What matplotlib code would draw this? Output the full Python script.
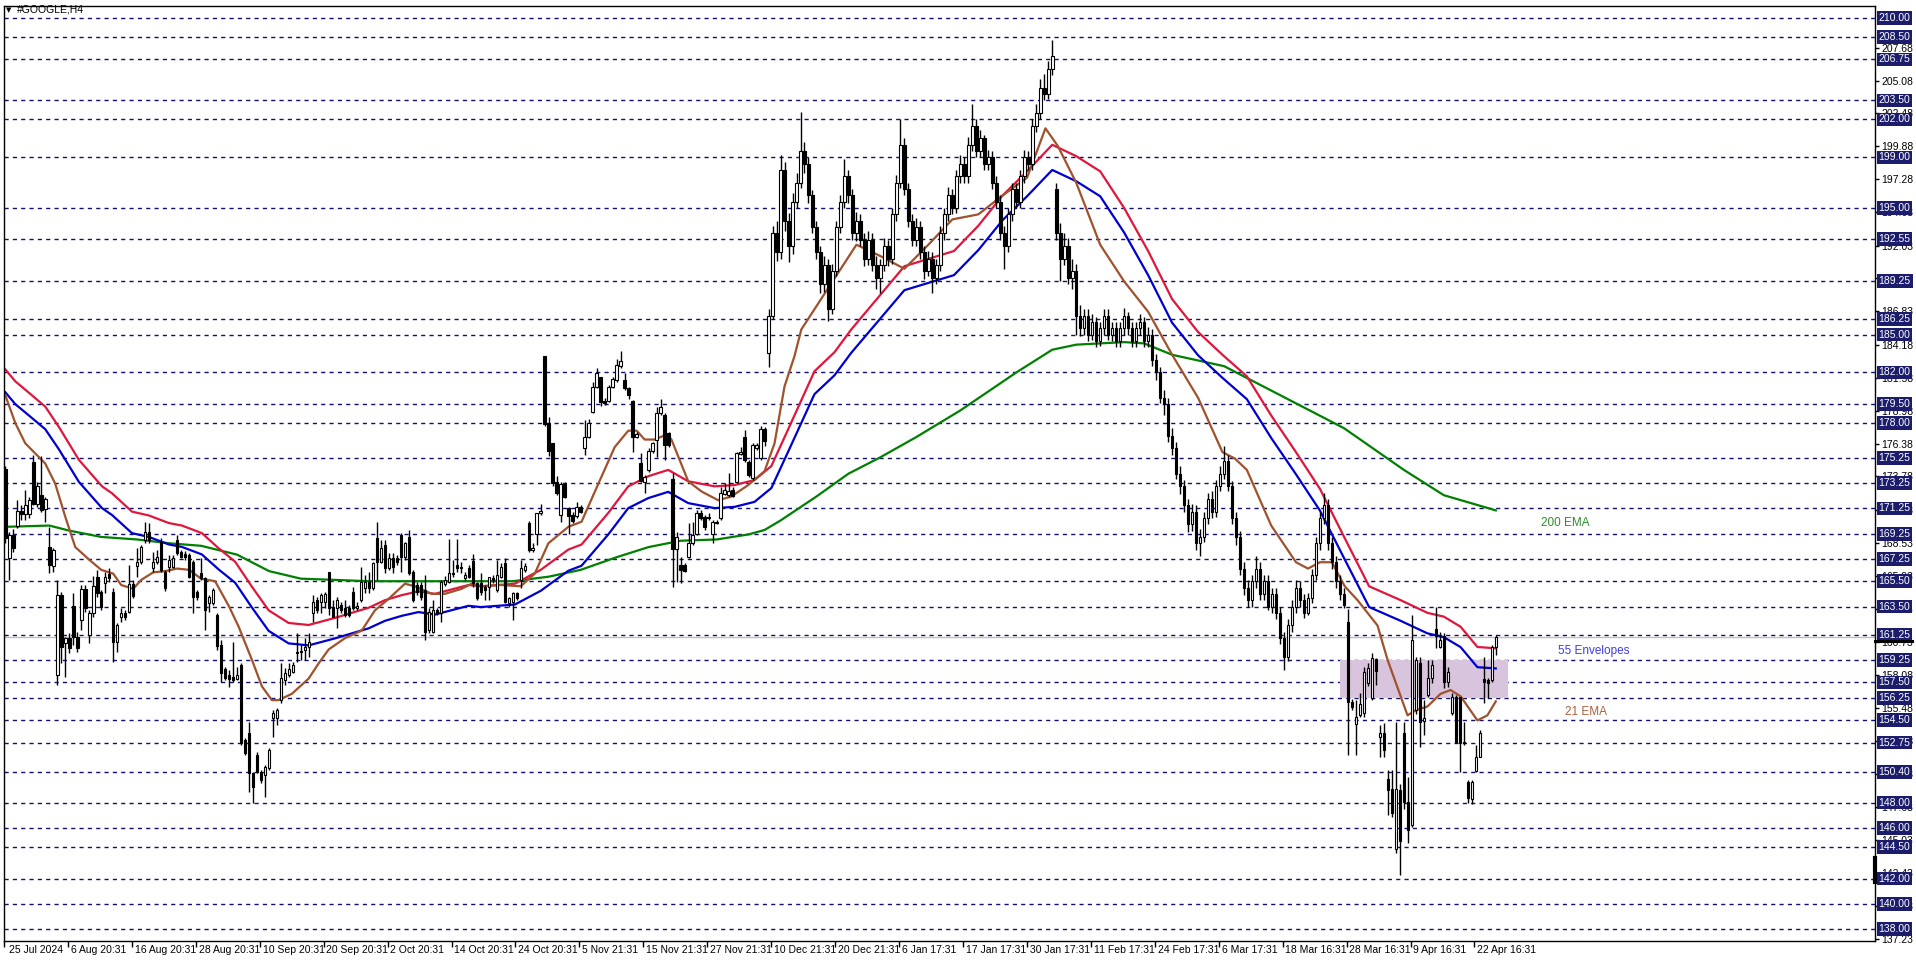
import matplotlib
matplotlib.use('Agg')
import matplotlib.pyplot as plt
import matplotlib.transforms as mtransforms
from matplotlib.patches import Rectangle

plt.rcParams['font.family'] = ['Liberation Sans', 'DejaVu Sans']

# ---------------- data ----------------
opens = [174.34,167.31,169.15,169.86,171.07,170.81,170.81,174.95,171.57,172.31,
171.18,168.23,166.70,158.08,164.41,160.64,160.98,163.54,161.11,162.43,
164.86,161.24,162.96,165.86,164.67,165.38,166.04,164.67,160.72,162.70,
162.96,163.09,165.28,166.70,167.04,168.76,169.41,166.52,167.04,168.62,
166.25,166.65,166.65,168.76,167.83,167.62,167.57,167.04,164.67,166.12,
165.73,163.75,163.75,162.83,160.46,158.53,158.08,157.95,157.74,158.87,
152.94,153.47,150.31,151.76,150.44,150.18,150.71,154.66,154.66,156.11,
157.69,158.08,158.35,159.93,160.00,160.06,160.32,162.96,164.01,163.88,
163.88,166.25,163.49,163.35,163.62,163.35,163.35,164.67,163.35,164.01,
164.93,165.46,164.93,168.89,167.04,168.36,166.52,167.30,167.30,169.15,
167.44,169.02,166.25,165.20,165.20,164.80,161.64,161.51,163.22,162.96,
165.28,165.46,166.17,166.78,166.65,165.73,166.52,167.12,165.33,165.33,
165.07,165.07,165.73,164.81,165.86,166.91,163.75,163.88,164.54,165.60,
166.39,170.13,167.97,169.23,170.92,183.30,177.98,176.40,173.37,170.74,
173.16,171.26,170.74,170.66,171.39,176.00,176.88,178.90,180.83,181.62,
179.77,179.77,180.88,181.41,182.51,181.41,180.75,179.77,176.88,174.82,
173.37,174.29,175.82,176.67,178.77,178.64,177.19,173.56,168.02,166.78,
166.78,167.44,168.50,169.23,170.92,170.60,170.60,169.23,170.20,170.47,
172.40,172.32,172.71,173.37,175.56,176.88,174.95,173.63,176.00,175.22,
177.51,183.57,
186.5,193.0,191.5,198.0,194.0,192.0,195.5,197.0,199.5,198.5,
196.0,193.5,191.5,189.0,190.5,187.0,190.0,193.5,195.5,197.5,
196.0,193.0,194.0,192.5,191.0,192.5,190.5,189.5,190.5,192.0,
191.0,194.5,197.0,200.0,196.5,194.0,192.5,193.5,191.5,190.0,
191.0,189.5,190.5,193.0,194.5,196.0,195.0,197.5,198.5,197.5,
200.0,201.5,199.5,200.5,198.5,199.0,197.0,195.5,193.0,192.0,
194.5,196.5,195.5,197.5,199.0,198.5,201.5,202.5,204.5,204.0,
206.0,196.5,193.0,191.0,192.0,189.5,190.0,186.5,185.5,186.5,
185.0,186.0,184.5,185.5,186.5,185.0,185.5,184.5,185.5,186.5,
185.5,184.5,185.5,186.0,184.5,185.0,183.0,182.0,180.0,179.5,
177.0,176.0,174.0,173.0,171.5,170.0,171.0,168.5,169.0,170.5,
172.0,171.0,173.0,174.0,175.0,173.0,170.5,169.0,166.5,165.0,
164.0,165.5,166.5,164.5,165.5,163.5,164.5,163.0,161.0,159.5,
162.0,163.5,165.0,164.0,163.0,164.2,166.0,168.5,170.5,171.5,
168.5,167.0,165.5,164.5,162.3,155.98,154.22,154.93,155.06,157.43,
156.25,159.33,153.16,153.48,149.87,149.08,144.31,149.0,153.48,148.08,
146.23,155.32,159.0,154.48,156.51,157.83,161.7,160.33,161.2,157.56,
155.06,156.38,156.38,152.74,149.66,148.26,150.53,151.64,157.75,157.7,
157.7,160.33]
highs = [174.60,169.40,169.60,171.92,171.52,172.71,172.18,175.47,173.37,175.40,
172.18,169.81,168.10,165.59,164.67,161.10,161.40,164.54,161.50,165.20,
165.20,163.22,165.91,166.38,164.80,166.25,166.52,164.93,162.17,163.35,
163.20,166.78,165.59,168.10,168.36,170.20,170.07,167.83,167.96,168.89,
166.38,167.57,167.57,169.15,168.00,167.90,167.70,167.17,164.80,167.30,
165.86,164.41,164.93,162.96,160.85,158.74,158.48,160.72,158.74,159.00,
153.07,154.40,150.44,152.02,150.57,150.97,152.29,155.32,155.45,159.00,
158.61,159.00,159.14,161.38,160.46,160.98,161.38,164.41,164.28,164.54,
164.67,166.25,164.01,164.28,163.88,164.01,163.62,165.07,163.88,166.65,
165.99,166.25,167.04,170.20,168.76,168.76,167.70,167.70,167.60,169.28,
168.62,169.54,166.38,165.46,165.46,165.99,163.35,164.01,163.35,165.59,
165.90,168.81,167.17,168.81,167.04,166.25,166.78,167.65,165.46,166.12,
165.20,165.86,166.00,167.18,166.91,167.31,164.28,164.67,164.67,167.18,
166.91,170.29,168.50,170.92,171.60,183.30,178.46,176.45,173.82,173.37,
173.37,171.39,171.00,171.79,171.53,178.25,178.30,181.28,182.33,181.67,
179.96,181.01,181.67,183.04,183.73,181.93,180.88,179.83,177.32,175.61,
173.90,176.00,176.53,179.25,179.88,178.77,177.32,174.03,169.42,167.44,
166.91,170.13,170.21,171.13,171.13,170.74,170.87,170.34,170.30,172.98,
173.29,174.03,172.98,175.74,176.14,177.46,175.09,176.40,176.40,177.77,
177.72,187.00,
193.6,194.0,199.2,198.6,194.6,196.2,197.8,202.6,200.2,199.0,
196.4,194.0,192.0,191.2,191.0,190.6,194.0,196.0,198.9,198.0,
196.5,194.7,194.5,193.0,193.2,193.0,191.2,191.0,192.6,192.5,
195.0,197.6,202.0,200.5,197.0,194.5,194.2,194.0,192.0,191.6,
191.5,191.0,193.6,195.0,196.7,196.5,198.0,199.2,199.0,200.6,
203.2,202.0,201.2,200.8,199.6,199.5,197.5,196.0,193.6,195.0,
197.0,197.0,198.0,199.6,199.5,202.0,203.2,205.2,205.6,206.6,
208.3,197.0,193.8,193.0,192.6,191.0,190.6,187.3,187.0,187.0,
186.6,186.4,186.0,187.0,187.0,186.0,186.0,186.0,187.1,186.8,
186.0,186.0,186.6,186.4,185.6,185.4,183.5,182.4,180.6,180.0,
177.6,176.5,174.6,173.5,172.0,171.6,171.5,169.6,171.0,172.5,
172.6,173.5,174.6,176.2,175.5,173.4,171.0,169.5,167.0,165.6,
166.0,167.5,167.0,166.0,166.0,165.0,165.0,163.5,161.5,162.5,
164.0,165.6,165.5,164.5,164.6,166.5,169.0,171.0,172.5,172.0,
169.0,167.5,166.0,165.0,163.28,156.2,156.12,156.64,158.75,159.0,
159.85,159.41,154.14,154.27,150.58,150.58,154.4,149.5,154.4,150.05,
162.8,159.54,159.54,156.12,159.28,159.28,163.5,161.5,161.4,158.75,
156.64,156.51,156.38,154.4,149.8,149.8,152.56,153.74,159.54,157.83,
160.46,161.25]
lows = [168.50,165.59,167.80,169.68,170.34,170.34,170.47,171.52,171.39,170.99,
170.20,166.12,166.25,157.29,159.00,157.90,159.80,160.45,159.93,161.64,
163.09,160.64,162.70,164.28,163.22,164.54,165.46,159.14,159.93,162.30,
162.40,162.96,164.15,165.86,166.90,168.50,168.50,166.25,166.90,166.25,
164.75,166.25,166.52,167.57,167.30,167.20,165.73,163.01,164.00,165.59,
161.64,163.09,163.62,160.06,157.56,157.69,157.16,157.56,157.69,152.55,
151.76,148.86,147.94,150.31,149.52,148.46,150.57,153.21,154.13,155.84,
157.29,157.95,158.22,159.14,159.27,159.27,159.53,162.30,162.96,162.96,
163.35,162.83,162.70,161.77,162.96,162.70,162.70,163.22,163.22,163.88,
164.54,164.54,164.80,165.59,166.91,166.12,166.38,166.12,166.80,166.25,
167.17,165.99,163.88,164.41,164.01,160.85,161.38,161.38,162.83,162.30,
165.10,165.33,165.86,166.25,166.12,165.59,165.73,165.07,164.01,164.40,
164.02,164.02,165.33,164.67,165.73,163.75,163.49,162.43,164.02,164.94,
166.26,167.84,167.84,168.37,170.74,177.80,175.40,173.03,172.32,170.21,
172.05,169.23,170.08,170.47,170.87,175.48,176.80,178.83,180.75,179.35,
179.43,179.69,180.75,181.28,182.33,180.62,179.88,175.74,176.80,173.37,
172.45,174.16,175.61,175.35,178.64,175.09,176.14,165.07,165.47,165.39,
166.26,167.31,168.37,169.15,170.34,169.55,170.34,168.55,170.00,170.34,
172.32,172.19,172.19,173.24,175.48,174.95,173.77,173.50,175.87,175.09,
176.19,182.41,
186.2,190.8,191.0,193.2,190.7,191.4,195.0,196.6,197.8,195.4,
193.0,191.0,188.3,188.4,186.1,186.6,189.6,193.0,195.0,195.4,
192.5,192.4,192.0,190.4,190.5,190.0,188.6,188.3,190.0,190.4,
190.6,194.0,196.6,196.0,193.5,192.0,192.0,191.0,189.4,189.6,
188.3,189.0,190.0,192.5,194.0,194.5,194.6,197.0,197.0,197.0,
199.5,199.0,199.0,198.0,198.0,196.5,195.0,192.5,190.2,191.5,
194.0,195.0,195.0,197.0,198.0,198.0,201.0,202.0,203.5,203.6,
205.5,192.5,189.2,190.5,189.0,188.6,185.0,184.9,185.0,184.5,
184.6,184.0,184.1,185.0,184.6,184.5,184.0,184.0,185.0,185.0,
184.0,184.0,185.0,184.0,184.0,182.5,181.4,179.6,178.6,176.5,
175.5,173.6,172.4,171.0,169.4,169.5,168.0,167.5,168.6,170.0,
170.5,170.6,172.6,173.6,172.6,170.0,168.4,166.0,164.4,163.5,
163.5,165.0,164.0,164.0,163.2,163.0,162.5,160.5,158.5,159.2,
161.5,163.0,163.5,162.6,162.8,163.8,165.6,168.0,170.0,168.0,
166.5,165.0,164.0,163.4,151.77,155.3,151.77,154.8,154.8,157.2,
156.12,157.3,151.64,151.64,147.02,146.9,144.0,142.3,147.5,144.78,
146.1,155.0,152.43,153.35,156.38,157.43,160.2,160.2,157.04,157.17,
154.93,152.69,150.45,152.56,147.95,147.89,150.45,151.64,155.85,156.25,
157.56,159.67]
closes = [168.89,169.15,168.10,171.07,170.81,171.52,171.92,171.57,173.02,171.13,
171.97,166.78,168.00,164.41,160.32,160.98,160.19,161.11,160.19,164.86,
163.35,162.96,165.12,164.54,163.49,165.86,165.73,160.72,162.04,162.96,
162.70,165.28,164.33,167.04,168.23,169.41,168.76,167.04,167.44,166.38,
164.93,167.17,167.30,167.70,167.44,167.44,165.86,164.28,164.28,165.73,
163.22,164.28,164.80,160.38,158.22,157.82,157.74,157.69,158.08,152.68,
151.89,150.31,149.26,150.44,149.78,150.84,152.15,155.05,155.32,157.82,
158.22,158.53,158.87,159.80,159.88,160.32,160.72,163.88,163.22,164.41,
164.49,163.35,162.70,164.01,163.22,162.83,162.83,163.35,163.54,165.46,
165.46,164.93,166.91,167.04,168.10,166.52,167.30,166.65,167.04,167.44,
168.49,166.12,164.01,164.67,164.28,161.51,163.09,163.22,162.96,165.46,
165.59,166.12,166.07,166.52,166.52,165.99,165.86,165.33,164.15,164.67,
164.81,165.86,165.60,166.00,166.65,163.88,164.15,164.54,164.15,166.52,
166.70,167.97,168.10,170.87,171.05,177.93,175.82,173.24,172.45,173.16,
172.19,170.66,170.29,171.39,171.00,176.88,177.98,180.83,181.93,179.69,
179.56,180.83,181.46,182.59,182.94,180.75,180.22,176.88,177.14,173.45,
173.77,175.82,176.40,178.77,179.30,176.27,176.27,168.02,169.02,166.39,
166.34,168.50,169.15,170.92,170.47,169.76,170.47,170.21,170.10,172.45,
172.71,172.66,172.27,175.61,175.74,175.09,173.90,176.27,176.27,177.51,
176.61,186.50,
193.0,191.5,198.0,194.0,192.0,195.5,197.0,199.5,198.5,196.0,
193.5,191.5,189.0,190.5,187.0,190.0,193.5,195.5,197.5,196.0,
193.0,194.0,192.5,191.0,192.5,190.5,189.5,190.5,192.0,191.0,
194.5,197.0,200.0,196.5,194.0,192.5,193.5,191.5,190.0,191.0,
189.5,190.5,193.0,194.5,196.0,195.0,197.5,198.5,197.5,200.0,
201.5,199.5,200.5,198.5,199.0,197.0,195.5,193.0,192.0,194.5,
196.5,195.5,197.5,199.0,198.5,201.5,202.5,204.5,204.0,206.0,
207.0,193.0,191.0,192.0,189.5,190.0,186.5,185.5,186.5,185.0,
186.0,184.5,185.5,186.5,185.0,185.5,184.5,185.5,186.5,185.5,
184.5,185.5,186.0,184.5,185.0,183.0,182.0,180.0,179.5,177.0,
176.0,174.0,173.0,171.5,170.0,171.0,168.5,169.0,170.5,172.0,
171.0,173.0,174.0,175.0,173.0,170.5,169.0,166.5,165.0,164.0,
165.5,166.5,164.5,165.5,163.5,164.5,163.0,161.0,159.5,162.0,
163.5,165.0,164.0,163.0,164.2,166.0,168.5,170.5,171.5,168.5,
167.0,165.5,164.5,163.6,155.98,155.59,154.8,155.8,158.35,158.62,
159.41,158.43,153.48,152.16,149.0,147.16,149.08,145.0,148.08,145.84,
160.86,159.28,154.4,154.67,157.83,158.88,161.2,160.86,157.56,158.35,
156.38,152.82,152.74,152.69,148.34,149.66,151.64,153.53,157.56,157.43,
160.33,161.07]

# indicator lines (bar position, price)
env_x = [0,2.5,5.9,10,13.4,18.4,24.2,26.7,31.7,35.9,40.9,44.2,49.2,53.4,57.5,
61.7,65.9,70.9,75.9,82.5,90.9,95,99.2,103.4,107.5,115.9,119,127.5,134,140.9,
144.2,150.9,155.9,160.9,165.9,170.9,177.5,182.5,187.5,191.7,195.9,202.5,207.5,211.7,225,
237.4,243.5,249.6,255.7,262,268,274,280,286,292,298.5,304.6,310.7,316.8,323,
329,335.2,341.3,349.2,355.9,360,364.2,368.4,373]
env_upper = [182.25,181.3,180.4,179.3,177.7,175.1,173.0,172.45,171.0,170.7,170.1,169.9,169.3,168.1,167.05,
165.07,163.2,162.2,162.04,162.6,163.4,164.0,164.4,164.7,164.5,165.2,165.1,165.3,166.4,168.0,
168.4,170.9,173.0,173.8,174.3,173.4,173.0,173.1,173.5,174.6,177.5,182.1,183.6,185.4,190.4,
191.6,193.6,196.0,197.9,200.0,199.1,197.9,195.0,191.6,187.8,185.2,183.4,181.7,178.6,175.7,
172.8,168.9,165.1,164.0,163.0,162.7,161.9,160.3,160.2]
env_dev = 0.005

ema21_x = [0,2.5,5,7.5,10,12.5,15,17.5,21,24,27,29,32,34,37,40,43,46,49,52.5,
56,58.4,61.7,64.2,66.7,68.4,71.7,75.9,78.4,80.9,85,89.2,92.5,95.9,100,102.5,106.7,110,114.2,116.7,
119.2,124,129,132.5,135.9,140.9,144.2,148.4,152.5,155.9,158,160,162.5,165.5,166.7,170.9,174.2,178.4,181.7,185.9,
190,192.5,195,197.5,199.2,213,219,225,231,237,243.5,249.6,255.7,260.3,263.4,268,274,280,286,292,
298.5,304.6,307.7,310.7,316.8,323,326,329,332,335.2,338.4,343.4,345.9,349.2,350.9,353,355.9,359.2,361.7,364.2,
368.4,370.9,373]
ema21_v = [180.2,178.0,176.4,175.6,174.8,173.2,170.6,168.2,167.2,166.4,166.1,165.2,164.9,165.6,166.2,166.3,166.5,166.4,165.7,165.5,
163.5,161.9,159.3,157.2,156.1,156.1,156.6,157.8,159.0,160.1,161.0,161.6,163.2,164.1,165.3,165.1,164.5,164.5,164.9,165.3,
165.1,165.2,165.1,166.1,168.5,169.8,170.2,173.2,176.1,177.4,177.4,176.7,176.7,177.1,176.7,173.4,172.6,171.9,172.2,173.1,
174.2,176.4,180.9,183.3,185.4,192.1,191.2,190.2,192.1,194.1,194.5,196.0,197.4,201.3,199.9,197.0,192.1,189.2,186.8,183.4,
180.0,175.7,175.2,174.3,169.9,167.0,166.5,167.0,167.0,165.1,164.0,162.0,159.3,156.4,154.9,155.3,155.6,156.6,156.9,156.4,
154.5,154.9,156.0]

ema200_x = [0,11,16,24,33,41,49,58,66,74,83,91,107,119,127,136,144,153,161,169,178,186,190,194,
203,211,219,228,239,253,262,268,280,285,292,305,320,335,350,360,373]
ema200_v = [169.8,169.9,169.5,169.0,168.8,168.5,168.3,167.6,166.3,165.7,165.6,165.5,165.5,165.5,165.5,165.86,166.4,167.4,168.2,168.7,168.8,169.2,169.55,170.3,
172.2,174.0,175.3,176.9,179.0,182.0,183.8,184.2,184.4,184.3,183.4,182.5,180.05,177.6,174.3,172.3,171.1]

level_lines = [210.00,208.50,206.75,203.50,202.00,199.00,195.00,192.55,189.25,186.25,185.00,
182.00,179.50,178.00,175.25,173.25,171.25,169.25,167.25,165.50,163.50,161.25,159.25,157.50,
156.25,154.50,152.75,150.40,148.00,146.00,144.50,142.00,140.00,138.00]
scale_ticks = [207.68,205.08,202.48,199.88,197.28,194.68,192.03,189.43,186.83,184.18,181.58,
178.98,176.38,173.78,171.13,168.53,165.93,163.33,160.73,158.08,155.48,152.88,150.28,147.68,
145.03,142.43,139.83,137.23]
date_labels = ['25 Jul 2024','6 Aug 20:31','16 Aug 20:31','28 Aug 20:31','10 Sep 20:31',
'20 Sep 20:31','2 Oct 20:31','14 Oct 20:31','24 Oct 20:31','5 Nov 21:31','15 Nov 21:31',
'27 Nov 21:31','10 Dec 21:31','20 Dec 21:31','6 Jan 17:31','17 Jan 17:31','30 Jan 17:31',
'11 Feb 17:31','24 Feb 17:31','6 Mar 17:31','18 Mar 16:31','28 Mar 16:31','9 Apr 16:31',
'22 Apr 16:31']
bars_per_label = 16
current_price = 161.1
zone_low, zone_high = 156.25, 159.30
zone_start, zone_end = 334, 376

# ---------------- figure ----------------
W, Hh = 1916, 963
fig = plt.figure(figsize=(W/100, Hh/100), dpi=100)
fig.patch.set_facecolor('white')
L, R, T, B = 4, 1875, 6, 941
ax = fig.add_axes([L/W, 1-B/Hh, (R-L)/W, (B-T)/Hh])
ax.set_xlim(0.175, 467.9)
ax.set_ylim(137.06, 210.97)
for s in ax.spines.values():
    s.set_color('black'); s.set_linewidth(1)

# level lines
for lv in level_lines:
    ax.axhline(lv, color='#10106e', lw=1, ls=(0, (3, 3)), zorder=1)
ax.axhline(current_price, color='#c0c0c0', lw=1, zorder=1)

# zone
ax.add_patch(Rectangle((zone_start, zone_low), zone_end-zone_start, zone_high-zone_low,
                       facecolor='#d8c4dc', edgecolor='none', zorder=1.2))

# indicator lines
upper = list(env_upper)
lower = [u*(1-env_dev)/(1+env_dev) for u in env_upper]
ax.plot(ema200_x, ema200_v, color='#008000', lw=1.6, zorder=2)
ax.plot(env_x, upper, color='#e0163c', lw=1.6, zorder=2)
ax.plot(env_x, lower, color='#0000d0', lw=1.6, zorder=2)
ax.plot(ema21_x, ema21_v, color='#a0522d', lw=1.6, zorder=2)

# candles
n = len(closes)
xs = list(range(n))
ax.vlines(xs, lows, highs, color='black', lw=1, zorder=3)
for i in range(n):
    o, c = opens[i], closes[i]
    bottom = min(o, c)
    h = max(abs(c-o), 0.08)
    fc = 'white' if c >= o else 'black'
    ax.add_patch(Rectangle((i-0.32, bottom), 0.64, h, facecolor=fc,
                           edgecolor='black', lw=0.8, zorder=4))

# x axis
tick_pos = [k*bars_per_label - 0.33 for k in range(len(date_labels))]
ax.set_xticks(tick_pos)
ax.set_xticklabels([''] * len(tick_pos))
ax.tick_params(axis='x', direction='out', length=4, width=1, color='black')
for tp, lab in zip(tick_pos, date_labels):
    ax.annotate(lab, xy=(max(tp, 0.175), 0), xycoords=('data', 'axes fraction'),
                xytext=(2, -3.2), textcoords='offset points', ha='left', va='top',
                fontsize=7.5, color='black', annotation_clip=False)

# y axis on right
ax.yaxis.set_ticks_position('right')
ax.set_yticks(scale_ticks)
ax.set_yticklabels([f'{v:.2f}' for v in scale_ticks])
ax.tick_params(axis='y', direction='out', length=3, width=1, pad=1.5, labelsize=7.5)
tr = mtransforms.blended_transform_factory(ax.transAxes, ax.transData)
off = mtransforms.ScaledTranslation(3.5/100, 0, fig.dpi_scale_trans)
for lv in level_lines:
    ax.text(1.0, lv, f'{lv:.2f}', transform=tr + off, ha='left', va='center',
            fontsize=7.5, color='white', zorder=10, clip_on=False,
            bbox=dict(boxstyle='square,pad=0.18', facecolor='#1c1c6c', edgecolor='none'))

# price markers on the scale
ax.plot([1.0, 1.02], [160.8, 160.8], transform=tr, color='black', lw=2.2,
        clip_on=False, zorder=11)
ax.plot([1.0, 1.0], [141.7, 143.6], transform=tr, color='black', lw=3,
        clip_on=False, zorder=11)

# labels on chart
ax.text(390.5, 170.1, '200 EMA', color='#2e8b2e', fontsize=8.5, ha='center', va='center')
ax.text(397.5, 160.0, '55 Envelopes', color='#3d3de0', fontsize=8.5, ha='center', va='center')
ax.text(395.5, 155.2, '21 EMA', color='#b0603a', fontsize=8.5, ha='center', va='center')

# title
fig.text(6/W, 1-10/Hh, '\u25BC', fontsize=5, va='center', ha='left', family='DejaVu Sans')
fig.text(17/W, 1-10/Hh, '#GOOGLE,H4', fontsize=7.5, va='center', ha='left')

fig.savefig('out.png', dpi=100)
